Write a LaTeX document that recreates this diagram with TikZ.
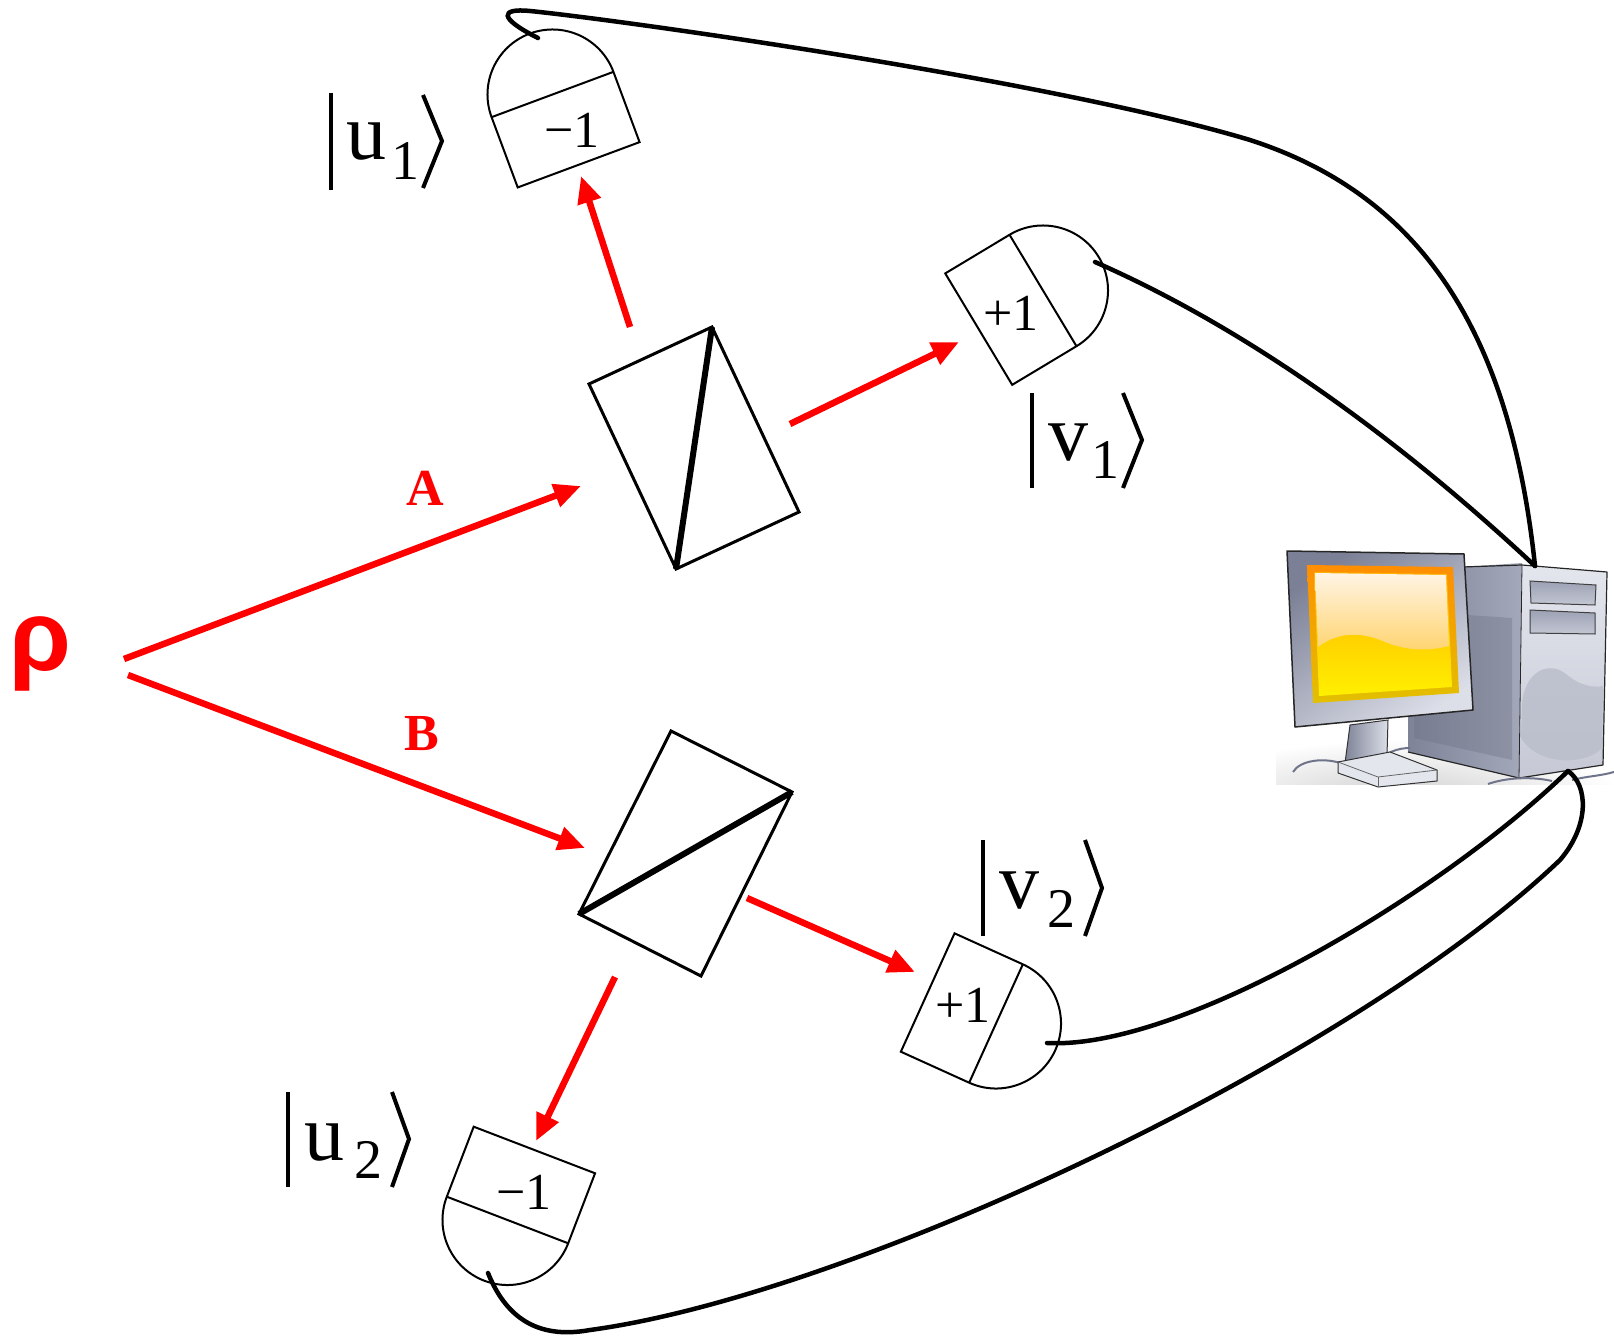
\documentclass[tikz,border=0pt]{standalone}
\usepackage{fontspec}
\setmainfont{Liberation Serif}
\newfontfamily\greekfont{Liberation Sans}
\usetikzlibrary{arrows.meta}

\definecolor{beamred}{RGB}{255,0,0}
\definecolor{bezdark}{HTML}{7B8096}
\definecolor{bezlight}{HTML}{DCDFE8}
\definecolor{scrorange}{HTML}{FF8E00}
\definecolor{scrolive}{HTML}{E2C000}
\definecolor{scrtop}{HTML}{FFB000}
\definecolor{scrbot}{HTML}{FFF000}
\definecolor{glosstop}{HTML}{FFF4E4}
\definecolor{glossbot}{HTML}{FFD46E}
\definecolor{sidedark}{HTML}{7E8398}
\definecolor{sidelight}{HTML}{A3A8BA}
\definecolor{fronttop}{HTML}{E4E6EE}
\definecolor{frontbot}{HTML}{C6C9D5}
\definecolor{baytop}{HTML}{9CA1B4}
\definecolor{baybot}{HTML}{C3C7D3}
\definecolor{blobcol}{HTML}{B9BDCA}
\definecolor{wirecol}{HTML}{6F748A}

% detector: semicircular dome on a rectangular body
\newcommand\drawdetector[2]{%
  \begin{scope}[shift={#1}, rotate=#2]
    \draw[detline] (65,0) arc[start angle=0, end angle=180, radius=65]
      -- (-65,-75) -- (65,-75) -- cycle;
    \draw[detline] (-65,0) -- (65,0);
  \end{scope}}

\begin{document}
\begin{tikzpicture}[x=1pt, y=1pt,
  beam/.style={draw=beamred, line width=6.5pt, -{Triangle[length=27pt, width=23pt]}},
  cable/.style={draw=black, line width=4.5pt, line cap=round},
  detline/.style={draw=black, line width=2pt, line join=miter},
  bsline/.style={draw=black, line width=3pt, line join=miter},
  bsdiag/.style={draw=black, line width=6pt},
  ketline/.style={draw=black, line width=4pt},
  valuetext/.style={font=\fontsize{52}{52}\selectfont, inner sep=0pt},
  ketletter/.style={font=\fontsize{80}{80}\selectfont, inner sep=0pt, anchor=base},
  ketindex/.style={font=\fontsize{56}{56}\selectfont, inner sep=0pt, anchor=base},
  pathlabel/.style={font=\bfseries\fontsize{52}{52}\selectfont, text=beamred, inner sep=0pt, anchor=base},
  pccable/.style={draw=wirecol, line width=2pt},
  pcedge/.style={draw=black!85, line width=1.2pt, line join=round},
]
\useasboundingbox (0,0) rectangle (1614,-1337);

% ---------------- source and paths A, B ----------------
\node[font=\greekfont\bfseries\fontsize{100}{100}\selectfont, text=beamred, anchor=base, inner sep=0pt] (rho) at (40,-670) {ρ};
\node[pathlabel] (labA) at (425,-505) {A};
\node[pathlabel] (labB) at (422,-750) {B};

% ---------------- beam splitters ----------------
\draw[bsline] (589,-384) coordinate (bsA1) -- (712,-327) coordinate (bsA2)
  -- (799,-512) coordinate (bsA3) -- (676,-569) coordinate (bsA4) -- cycle;
\draw[bsdiag] (bsA2) -- (bsA4);
\draw[bsline] (671,-731) coordinate (bsB1) -- (792,-792) coordinate (bsB2)
  -- (701,-976) coordinate (bsB3) -- (579,-914) coordinate (bsB4) -- cycle;
\draw[bsdiag] (bsB4) -- (bsB2);

% ---------------- detectors ----------------
\drawdetector{(552.5,-94.5)}{20.4}
\drawdetector{(1043,-290.5)}{-59}
\drawdetector{(996,-1023.5)}{-114.4}
\drawdetector{(507.5,-1220)}{159}
\node[valuetext] (d1) at (572,-130) {−1};
\node[valuetext] (d2) at (1011,-313) {+1};
\node[valuetext] (d3) at (963,-1005) {+1};
\node[valuetext] (d4) at (524,-1192) {−1};

% ---------------- state labels ----------------
\draw[ketline] (331,-93) -- (331,-190);
\node[ketletter] (ku1) at (366,-160) {u};
\node[ketindex] (ku1i) at (405,-180) {1};
\draw[ketline] (423,-95) -- (442,-141) -- (423,-188);

\draw[ketline] (1032,-393) -- (1032,-488);
\node[ketletter] (kv1) at (1068.5,-460) {v};
\node[ketindex] (kv1i) at (1105,-478) {1};
\draw[ketline] (1123,-393) -- (1142,-440) -- (1123,-488);

\draw[ketline] (983,-840) -- (983,-936);
\node[ketletter] (kv2) at (1019,-908) {v};
\node[ketindex] (kv2i) at (1061,-927) {2};
\draw[ketline] (1085,-840) -- (1102,-888) -- (1085,-936);

\draw[ketline] (288,-1092) -- (288,-1187);
\node[ketletter] (ku2) at (324,-1160) {u};
\node[ketindex] (ku2i) at (368,-1178) {2};
\draw[ketline] (392,-1092) -- (409,-1139) -- (392,-1187);

% ---------------- beams ----------------
\coordinate (srcA) at (124,-659);  \coordinate (bsAin) at (581,-486);
\coordinate (srcB) at (128,-675);  \coordinate (bsBin) at (585,-848);
\coordinate (bsAup) at (630,-327); \coordinate (u1in) at (581,-176);
\coordinate (bsAout) at (790,-424);\coordinate (v1in) at (959,-342);
\coordinate (bsBout) at (747,-898);\coordinate (v2in) at (915,-972);
\coordinate (bsBdn) at (615,-977); \coordinate (u2in) at (536,-1141);
\draw[beam] (srcA) -- (bsAin);
\draw[beam] (srcB) -- (bsBin);
\draw[beam] (bsAup) -- (u1in);
\draw[beam] (bsAout) -- (v1in);
\draw[beam] (bsBout) -- (v2in);
\draw[beam] (bsBdn) -- (u2in);

% ---------------- computer ----------------
\begin{scope}
  \clip (1276,-545) rectangle (1614,-784);
  \shade[inner color=black!18, outer color=white] (1400,-795) ellipse[x radius=220, y radius=55];
\end{scope}
% tower side and front
\shade[left color=sidedark, right color=sidelight] (1462,-567) -- (1522,-563) -- (1519,-778) -- (1408,-752) -- (1408,-600) -- cycle;
\fill[sidedark!85!black, opacity=0.35] (1468,-615) -- (1512,-618) -- (1512,-760) -- (1414,-738) -- (1414,-640) -- cycle;
\shade[top color=fronttop, bottom color=frontbot] (1522,-565) -- (1607,-572) -- (1603,-765) -- (1519,-778) -- cycle;
\fill[blobcol, opacity=0.8] (1522,-705) .. controls (1524,-672) and (1548,-660) .. (1566,-674)
  .. controls (1580,-686) and (1594,-688) .. (1603,-686) -- (1602,-748)
  .. controls (1588,-764) and (1540,-768) .. (1521,-738) -- cycle;
\draw[pcedge] (1408,-752) -- (1519,-778) -- (1603,-765) -- (1607,-572) -- (1522,-565) -- (1462,-567);
\draw[pcedge, line width=0.8pt] (1522,-565) -- (1519,-778);
\shade[top color=baytop, bottom color=baybot, draw=black!75, line width=1pt] (1530,-581) -- (1596,-585) -- (1595,-605) -- (1531,-603) -- cycle;
\shade[top color=baytop, bottom color=baybot, draw=black!75, line width=1pt] (1530,-610) -- (1595,-613) -- (1595,-634) -- (1530,-633) -- cycle;
% cables on the desk
\draw[pccable] (1293,-772) .. controls (1300,-760) and (1325,-757) .. (1343,-764);
\draw[pccable] (1372,-766) .. controls (1385,-752) and (1398,-748) .. (1410,-748);
\draw[pccable] (1488,-784) .. controls (1505,-778) and (1530,-776) .. (1552,-781);
\draw[pccable] (1572,-780) .. controls (1588,-776) and (1600,-776) .. (1614,-772);
% monitor stand
\shade[left color=sidedark, right color=bezlight, draw=black!80, line width=1pt] (1350,-725) -- (1388,-720) -- (1387,-755) -- (1345,-763) -- cycle;
\fill[fronttop, draw=black!80, line width=1pt, line join=round] (1338,-762) -- (1390,-752) -- (1437,-770) -- (1437,-781) -- (1378,-787) -- (1338,-773) -- cycle;
\draw[black!60, line width=0.8pt] (1338,-762) -- (1378,-777) -- (1437,-770);
\draw[black!60, line width=0.8pt] (1378,-777) -- (1378,-787);
% monitor
\shade[shading=axis, top color=bezdark, bottom color=bezlight, shading angle=35, draw=black!85, line width=1.5pt, line join=round]
  (1287,-551) -- (1464,-554) -- (1473,-710) -- (1295,-727) -- cycle;
\shade[top color=scrorange, bottom color=scrolive] (1307,-565) -- (1453,-567) -- (1459,-693) -- (1313,-703) -- cycle;
\shade[top color=scrtop, bottom color=scrbot] (1314,-572) -- (1447,-574) -- (1452,-687) -- (1319,-696) -- cycle;
\shade[top color=glosstop, bottom color=glossbot] (1315,-573) -- (1446,-575) -- (1449,-646)
  .. controls (1425,-652) and (1405,-650) .. (1385,-642)
  .. controls (1365,-633) and (1340,-630) .. (1318,-647) -- cycle;

% ---------------- signal cables ----------------
\coordinate (u1w) at (538,-38);
\coordinate (v1w) at (1095,-262);
\coordinate (v2w) at (1047,-1043);
\coordinate (u2w) at (488,-1273);
\coordinate (pctop) at (1535,-566);
\coordinate (pcbot) at (1568,-771);
\draw[cable] (u1w) .. controls (498,-18) and (500,-8) .. (530,-11)
  .. controls (620,-20) and (1050,-80) .. (1250,-140)
  .. controls (1420,-195) and (1510,-330) .. (pctop);
\draw[cable] (v1w) .. controls (1250,-330) and (1400,-440) .. (pctop);
\draw[cable] (v2w) .. controls (1180,-1050) and (1440,-895) .. (pcbot);
\draw[cable] (u2w) .. controls (505,-1315) and (535,-1340) .. (590,-1330)
  .. controls (850,-1295) and (1350,-1060) .. (1560,-860)
  .. controls (1590,-825) and (1588,-785) .. (pcbot);
\end{tikzpicture}
\end{document}
